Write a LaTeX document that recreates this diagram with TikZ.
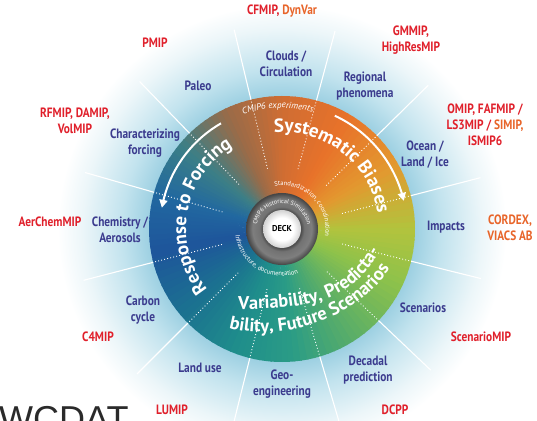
\documentclass[tikz,border=0pt]{standalone}
\usepackage{fontspec}
\setmainfont{PT Sans}
\newfontfamily\labfont{PT Sans}[FakeStretch=0.84]
\newfontfamily\titlefont{Liberation Sans}
\usetikzlibrary{calc,decorations.text,arrows.meta,bending}

% label colours
\definecolor{navyc}{HTML}{3B3B8E}
\definecolor{redc}{HTML}{E0202B}
\definecolor{orangec}{HTML}{E8652A}
\definecolor{titlegray}{HTML}{2A2A2A}
% halo around the wheel
\definecolor{haloA}{HTML}{9DD0E2}
\definecolor{haloB}{HTML}{C2E3EE}
\definecolor{haloC}{HTML}{ECF6F9}
% colour stops of the wheel, by angle
\definecolor{w000}{HTML}{B3C33D}
\definecolor{w030}{HTML}{E3982F}
\definecolor{w060}{HTML}{E8722A}
\definecolor{w090}{HTML}{CF6D33}
\definecolor{w115}{HTML}{9A6B48}
\definecolor{w140}{HTML}{3C7F86}
\definecolor{w165}{HTML}{2168A0}
\definecolor{w190}{HTML}{1E559B}
\definecolor{w220}{HTML}{1B7190}
\definecolor{w250}{HTML}{1F8E8B}
\definecolor{w275}{HTML}{2B9C86}
\definecolor{w305}{HTML}{5DAF66}
\definecolor{w335}{HTML}{8EC24B}
\definecolor{w360}{HTML}{B3C33D}
% grey hub
\definecolor{ringA}{HTML}{4C4C4C}
\definecolor{ringB}{HTML}{727272}
\definecolor{ringC}{HTML}{7E7E7E}
\definecolor{ringD}{HTML}{444444}
\definecolor{hubE}{HTML}{D2D2D2}

% radial shadings: 25bp is the edge of the shaded circle
\pgfdeclareradialshading{halo}{\pgfpoint{0bp}{0bp}}{color(0bp)=(haloA); color(14.45bp)=(haloA); color(17.4bp)=(haloB); color(21.7bp)=(haloC); color(24.4bp)=(white); color(25bp)=(white); color(50bp)=(white)}
\pgfdeclareradialshading{hubring}{\pgfpoint{0bp}{0bp}}{color(0bp)=(ringA); color(13.2bp)=(ringA); color(15.5bp)=(ringB); color(20.5bp)=(ringC); color(25bp)=(ringD); color(50bp)=(ringD)}
\pgfdeclareradialshading{hubcore}{\pgfpoint{0bp}{0bp}}{color(0bp)=(white); color(15bp)=(white); color(25bp)=(hubE); color(50bp)=(hubE)}

% text set along an arc: centre, radius, start angle, end angle, format, text
\newcommand\curvetext[6]{\path[decorate,decoration={text along path,text align=center,text={|#5|#6}}] ($(#1)+(#3:#2)$) arc[start angle=#3,end angle=#4,radius=#2];}
\newcommand\bigfmt{\fontsize{19}{22}\selectfont\bfseries\color{white}}
\newcommand\varfmt{\fontsize{18.5}{21}\selectfont\bfseries\color{white}}
\newcommand\expfmt{\fontsize{9}{10}\selectfont\itshape\color{white}}
\newcommand\smallfmt{\fontsize{6.6}{8}\selectfont\color{white}}
\newcommand\tinyfmt{\fontsize{6}{7}\selectfont\color{white}}

\begin{document}
\begin{tikzpicture}[x=1pt,y=1pt,
  lab/.style={font=\labfont\bfseries\fontsize{13.5}{16}\selectfont,align=center,inner sep=0pt},
  topic/.style={lab,text=navyc},
  mip/.style={lab,text=redc},
  spoke/.style={white,line width=1.1pt},
  inspoke/.style={white,line width=0.9pt,dash pattern=on 0.9pt off 2.2pt},
  turn/.style={white,line width=2pt,-{Triangle[length=8pt,width=8pt]}}]
\useasboundingbox (0,0) rectangle (537,420);
\clip (0,0) rectangle (537,420);
\fill[white] (0,0) rectangle (537,420);

\coordinate (C) at (282,191);

% pale blue glow behind the wheel
\shade[shading=halo] (C) circle[radius=230];

% colour wheel built from thin wedges
\foreach \aa/\ab/\ca/\cb in {0/30/w000/w030,30/60/w030/w060,60/90/w060/w090,90/115/w090/w115,115/140/w115/w140,140/165/w140/w165,165/190/w165/w190,190/220/w190/w220,220/250/w220/w250,250/275/w250/w275,275/305/w275/w305,305/335/w305/w335,335/360/w335/w360}{
  \foreach \i in {0,...,9}{
    \pgfmathsetmacro\sa{\aa+(\ab-\aa)*\i/10}
    \pgfmathsetmacro\sb{\aa+(\ab-\aa)*(\i+1)/10+0.6}
    \pgfmathsetmacro\pp{100-(\i+0.5)*10}
    \fill[\ca!\pp!\cb] (C) -- ($(C)+(\sa:133)$) arc[start angle=\sa,end angle=\sb,radius=133] -- cycle;
  }
}

% spokes between the topics
\foreach \ang in {14.5,44.5,75,103.5,134,164,194.5,225,256,286.5,316.5,346}{
  \draw[spoke] ($(C)+(\ang:133)$) -- ($(C)+(\ang:205)$);
  \draw[inspoke] ($(C)+(\ang:131)$) -- ($(C)+(\ang:62)$);
}

% grey hub
\shade[shading=hubring] (C) circle[radius=36];
\shade[shading=hubcore] (C) circle[radius=19];
\node[font=\bfseries\fontsize{8.5}{9}\selectfont,text=black,inner sep=0pt] (deck) at (C) {DECK};

% curved titles
\curvetext{C}{96}{260}{80}{\bigfmt}{Response to Forcing}
\curvetext{C}{97}{142}{-38}{\bigfmt}{Systematic Biases}
\curvetext{C}{121}{142}{42}{\expfmt}{CMIP6 experiments}
\curvetext{C}{25.5}{200}{-20}{\tinyfmt}{CMIP6 Historical Simulation}
\curvetext{C}{43.5}{145}{-55}{\smallfmt}{Standardization, coordination}
\curvetext{C}{47}{139}{339}{\smallfmt}{Infrastructure, documentation}

% two-line title of the lower sector, flat at first and then bending upwards
\coordinate (v1a) at (238,111);
\coordinate (v1b) at (385,180);
\coordinate (v2a) at (229,92);
\coordinate (v2b) at (396,164);
\path[decorate,decoration={text along path,text align=left,text={|\varfmt|Variability, Predicta-}}]
  (v1a) .. controls (320,110) and (360,124) .. (v1b) -- ++(66:60);
\path[decorate,decoration={text along path,text align=left,text={|\varfmt|bility, Future Scenarios}}]
  (v2a) .. controls (290,76) and (372,108) .. (v2b) -- ++(67:60);

% direction arrows
\draw[turn] ($(C)+(120:122)$) arc[start angle=120,end angle=170,radius=122];
\draw[turn] ($(C)+(65:125)$) arc[start angle=65,end angle=13,radius=125];

% topics
\node[topic] (clouds) at (286,356) {Clouds /\\Circulation};
\node[topic] (regional) at (365,334) {Regional\\phenomena};
\node[topic] (ocean) at (425,265) {Ocean /\\Land / Ice};
\node[topic] (impacts) at (446,193) {Impacts};
\node[topic] (scen) at (423,112) {Scenarios};
\node[topic] (decadal) at (368,50) {Decadal\\prediction};
\node[topic] (geo) at (282,36) {Geo-\\engineering};
\node[topic] (landuse) at (200,52) {Land use};
\node[topic] (carbon) at (143,110) {Carbon\\cycle};
\node[topic] (chem) at (120,190) {Chemistry /\\Aerosols};
\node[topic] (forcing) at (145,277) {Characterizing\\forcing};
\node[topic] (paleo) at (198,334) {Paleo};

% model intercomparison projects
\node[mip] (cfmip) at (282,409) {CFMIP, {\color{orangec}DynVar}};
\node[mip] (gmmip) at (411,380) {GMMIP,\\HighResMIP};
\node[mip] (omip) at (485,295) {OMIP, FAFMIP /\\LS3MIP / {\color{orangec}SIMIP,}\\ISMIP6};
\node[mip,text=orangec] (cordex) at (510,192) {CORDEX,\\VIACS AB};
\node[mip] (scenmip) at (481,83) {ScenarioMIP};
\node[mip] (dcpp) at (395,10) {DCPP};
\node[mip] (lumip) at (172,10) {LUMIP};
\node[mip] (c4mip) at (98,83) {C4MIP};
\node[mip] (aerchem) at (50,198) {AerChemMIP};
\node[mip] (rfmip) at (75,299) {RFMIP, DAMIP,\\VolMIP};
\node[mip] (pmip) at (155,377) {PMIP};

% heading running off the lower edge
\node[anchor=base west,inner sep=0pt,text=titlegray,font=\titlefont\fontsize{36}{36}\selectfont] (heading) at (-1,-11) {WCDAT};
\end{tikzpicture}
\end{document}
